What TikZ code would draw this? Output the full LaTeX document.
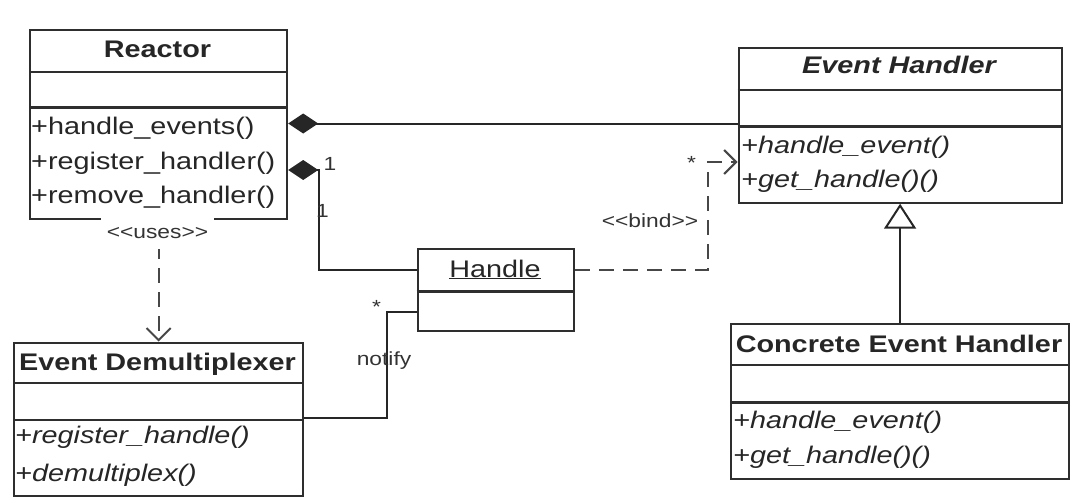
\documentclass[tikz,border=0pt]{standalone}
\usepackage{fontspec}
\setmainfont[FakeStretch=1.2]{Liberation Sans}
\usetikzlibrary{arrows.meta}
\begin{document}
\begin{tikzpicture}[x=1pt,y=-1pt,
 box/.style={draw=black!82, line width=2.2pt, fill=white, rectangle, inner sep=0pt, anchor=north west},
 sep/.style={draw=black!82, line width=2.2pt},
 mtext/.style={font=\fontsize{24}{28}\selectfont, anchor=base west, inner sep=0pt, text=black!85},
 ttl/.style={font=\fontsize{24}{28}\selectfont\bfseries, anchor=base, inner sep=0pt, text=black!85},
 lbl/.style={font=\fontsize{19}{22}\selectfont, text=black!80, inner sep=0pt, anchor=base},
 conn/.style={draw=black!85, line width=2pt},
 dep/.style={draw=black!72, line width=2pt, dash pattern=on 15pt off 9pt, -{Straight Barb[length=12pt,width=24pt]}},
 comp/.style={conn, {Diamond[length=30pt,width=20pt]}-},
 gen/.style={conn, -{Triangle[open, length=25pt, width=32pt, fill=white]}}
]
\useasboundingbox (0,0) rectangle (1088,496);

% ---------- Reactor ----------
\node[box, minimum width=257pt, minimum height=189pt] (reactor) at (29,29) {};
\draw[sep] (reactor.west |- 0,72) -- (reactor.east |- 0,72);
\draw[sep] (reactor.west |- 0,107.5) -- (reactor.east |- 0,107.5);
\node[ttl] (reactorT) at (157.5,57) {Reactor};
\node[mtext] (r1) at (31,134) {+handle\_events()};
\node[mtext] (r2) at (31,169) {+register\_handler()};
\node[mtext] (r3) at (31,203) {+remove\_handler()};

% ---------- Event Handler ----------
\node[box, minimum width=323pt, minimum height=155pt] (eh) at (737.5,46.5) {};
\draw[sep] (eh.west |- 0,90) -- (eh.east |- 0,90);
\draw[sep] (eh.west |- 0,126.5) -- (eh.east |- 0,126.5);
\node[ttl, font=\fontsize{24}{28}\selectfont\bfseries\itshape] (ehT) at (899,73) {Event Handler};
\node[mtext, font=\fontsize{24}{28}\selectfont\itshape] (e1) at (741,153) {+handle\_event()};
\node[mtext, font=\fontsize{24}{28}\selectfont\itshape] (e2) at (741,187) {+get\_handle()()};

% ---------- Concrete Event Handler ----------
\node[box, minimum width=338pt, minimum height=155pt] (ceh) at (730,323) {};
\draw[sep] (ceh.west |- 0,365) -- (ceh.east |- 0,365);
\draw[sep] (ceh.west |- 0,402.5) -- (ceh.east |- 0,402.5);
\node[ttl] (cehT) at (899,352) {Concrete Event Handler};
\node[mtext, font=\fontsize{24}{28}\selectfont\itshape] (c1) at (733,428) {+handle\_event()};
\node[mtext, font=\fontsize{24}{28}\selectfont\itshape] (c2) at (733,463) {+get\_handle()()};

% ---------- Event Demultiplexer ----------
\node[box, minimum width=289pt, minimum height=153pt] (demux) at (13,341.5) {};
\draw[sep] (demux.west |- 0,383) -- (demux.east |- 0,383);
\draw[sep] (demux.west |- 0,420) -- (demux.east |- 0,420);
\node[ttl] (demuxT) at (157.5,370) {Event Demultiplexer};
\node[mtext, font=\fontsize{24}{28}\selectfont\itshape] (d1) at (15,443) {+register\_handle()};
\node[mtext, font=\fontsize{24}{28}\selectfont\itshape] (d2) at (15,481) {+demultiplex()};

% ---------- Handle ----------
\node[box, minimum width=156.5pt, minimum height=82pt] (handle) at (416.5,248) {};
\draw[sep] (handle.west |- 0,291.5) -- (handle.east |- 0,291.5);
\node[mtext, anchor=base] (handleT) at (495,277) {\underline{Handle}};

% ---------- Connectors ----------
\draw[comp] (reactor.east |- 0,123.5) -- (eh.west |- 0,123.5);
\draw[comp] (reactor.east |- 0,170) -- ++(31,0) |- (handle.west |- 0,270);
\draw[dep] (handle.east |- 0,270) -| (708,162) -- (eh.west |- 0,162);
\draw[dep] (reactor.south) -- (demux.north);
\draw[conn] (handle.west |- 0,311.5) -- (387,311.5) |- (demux.east |- 0,418);
\draw[gen] (ceh.north) -- (eh.south);

% ---------- Labels ----------
\node[lbl, fill=white, anchor=center, minimum height=31pt, inner xsep=6pt] (uses) at (157.5,233) {<{}<uses>{}>};
\node[lbl] (bind) at (650,227) {<{}<bind>{}>};
\node[lbl] (one1) at (330,170) {1};
\node[lbl] (one2) at (322.5,217) {1};
\node[lbl] (star1) at (691.5,169) {*};
\node[lbl] (star2) at (376.5,313) {*};
\node[lbl] (notify) at (384,365) {notify};
\end{tikzpicture}
\end{document}
